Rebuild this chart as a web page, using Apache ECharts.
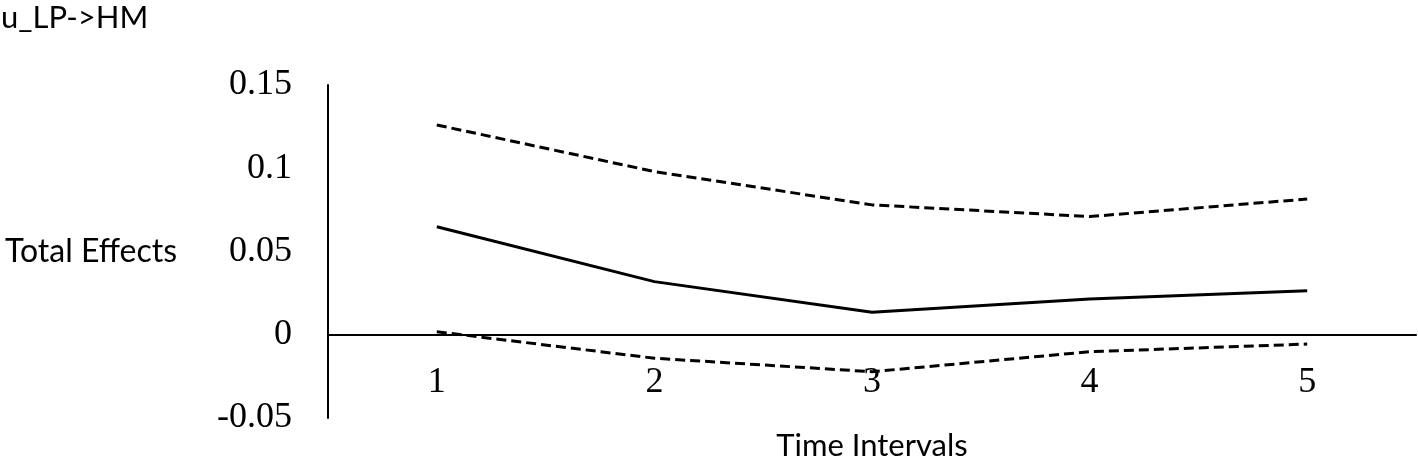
<!DOCTYPE html>
<html>
<head>
<meta charset="utf-8">
<script src="https://cdn.jsdelivr.net/npm/echarts@6/dist/echarts.min.js"></script>
<style>
html,body{margin:0;padding:0;background:#fff;}
#chart{width:1418px;height:458px;}
</style>
</head>
<body>
<div id="chart"></div>
<script>
const categories = ['1', '2', '3', '4', '5'];
const upperValues = [0.126, 0.098, 0.078, 0.071, 0.0815];
const effectValues = [0.0649, 0.0319, 0.0135, 0.0215, 0.0265];
const lowerValues = [0.0018, -0.0141, -0.0222, -0.0102, -0.0056];
const yTicks = { min: -0.05, max: 0.15, interval: 0.05 };
const titleText = 'u_LP->HM';
const yName = 'Total Effects';
const xName = 'Time Intervals';

const chart = echarts.init(document.getElementById('chart'));
const dashed = { color: '#000', width: 3, type: [10, 5] };
chart.setOption({
  animation: false,
  backgroundColor: '#fff',
  title: {
    text: titleText, left: 1, top: 2, padding: 0,
    textStyle: { fontFamily: 'Lato', fontWeight: 'normal', fontSize: 31, color: '#000' }
  },
  grid: { left: 328, right: 2, top: 85, bottom: 40, containLabel: false, outerBoundsMode: 'none' },
  xAxis: {
    type: 'category', data: categories, boundaryGap: true,
    axisLine: { onZero: true, lineStyle: { color: '#000', width: 2 } },
    axisTick: { show: false },
    axisLabel: { margin: -53, fontFamily: 'Liberation Serif', fontSize: 36, color: '#000' },
    name: xName, nameLocation: 'middle', nameGap: 12,
    nameTextStyle: { fontFamily: 'Lato', fontSize: 31, color: '#000' },
    splitLine: { show: false }
  },
  yAxis: {
    type: 'value', min: yTicks.min, max: yTicks.max, interval: yTicks.interval,
    axisLine: { show: true, onZero: false, lineStyle: { color: '#000', width: 2 } },
    axisTick: { show: false },
    splitLine: { show: false },
    axisLabel: { margin: 36, fontFamily: 'Liberation Serif', fontSize: 36, color: '#000',
      formatter: v => String(Math.round(v * 100) / 100) },
    name: yName, nameLocation: 'middle', nameRotate: 0, nameGap: 151,
    nameTextStyle: { fontFamily: 'Lato', fontSize: 32, color: '#000', padding: [0, 0, 6, 0] }
  },
  series: [
    { type: 'line', data: upperValues, symbol: 'none', lineStyle: dashed },
    { type: 'line', data: effectValues, symbol: 'none', lineStyle: { color: '#000', width: 3 } },
    { type: 'line', data: lowerValues, symbol: 'none', lineStyle: dashed }
  ]
});
</script>
</body>
</html>
